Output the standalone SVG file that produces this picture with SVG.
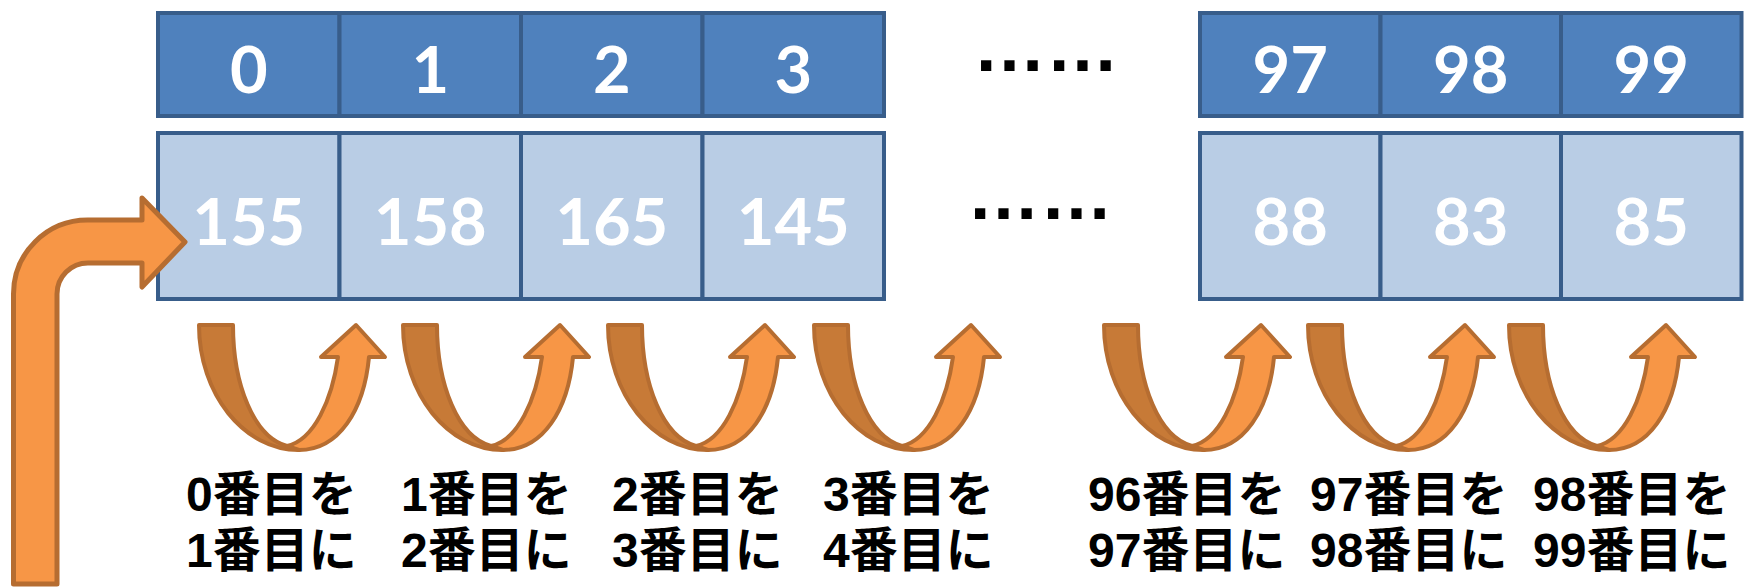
<svg xmlns="http://www.w3.org/2000/svg" width="1744" height="587" viewBox="0 0 1744 587">
<style>
.top{fill:#4F81BD;stroke:#385D8A;stroke-width:4}
.bot{fill:#B9CDE5;stroke:#385D8A;stroke-width:4}
.num{font-family:Lato,"Open Sans",sans-serif;font-weight:700;font-size:65px;fill:#FFFFFF;text-anchor:middle}
.dots{font-family:"Liberation Sans",sans-serif;font-weight:700;font-size:73px;fill:#000000}
.lbl{font-family:"Liberation Sans","Noto Sans CJK JP",sans-serif;font-weight:700;font-size:48px;fill:#000000}
.dark{fill:#C77A37;stroke:#B66D31;stroke-width:4;stroke-linejoin:round}
.light{fill:#F79646;stroke:#B66D31;stroke-width:4;stroke-linejoin:round}
.big{fill:#F79646;stroke:#B66D31;stroke-width:5;stroke-linejoin:round}
</style>
<defs>
<g id="uarrow">
<path class="dark" d="M0,0 L34,0 C34,60 55,112 88,121 L100,125 C45,125 0,69 0,0 Z"/>
<path class="light" d="M88,121 C115,115 133,75 139,32 L122,32 L157,0 L186,32 L170,32 C165,85 140,125 100,125 Z"/>
</g>
</defs>
<g id="index-row">
<g id="idx0"><rect class="top" x="158" y="13" width="181.5" height="103"/><text class="num" x="248.75" y="93">0</text></g>
<g id="idx1"><rect class="top" x="339.5" y="13" width="181.5" height="103"/><text class="num" x="430.25" y="93">1</text></g>
<g id="idx2"><rect class="top" x="521" y="13" width="181.5" height="103"/><text class="num" x="611.75" y="93">2</text></g>
<g id="idx3"><rect class="top" x="702.5" y="13" width="181.5" height="103"/><text class="num" x="793.25" y="93">3</text></g>
<g id="idx97"><rect class="top" x="1200" y="13" width="180.5" height="103"/><text class="num" x="1290.25" y="93">97</text></g>
<g id="idx98"><rect class="top" x="1380.5" y="13" width="180.5" height="103"/><text class="num" x="1470.75" y="93">98</text></g>
<g id="idx99"><rect class="top" x="1561" y="13" width="180.5" height="103"/><text class="num" x="1651.25" y="93">99</text></g>
</g>
<g id="value-row">
<g id="val0"><rect class="bot" x="158" y="133" width="181.5" height="166"/><text class="num" x="248.75" y="245">155</text></g>
<g id="val1"><rect class="bot" x="339.5" y="133" width="181.5" height="166"/><text class="num" x="430.25" y="245">158</text></g>
<g id="val2"><rect class="bot" x="521" y="133" width="181.5" height="166"/><text class="num" x="611.75" y="245">165</text></g>
<g id="val3"><rect class="bot" x="702.5" y="133" width="181.5" height="166"/><text class="num" x="793.25" y="245">145</text></g>
<g id="val97"><rect class="bot" x="1200" y="133" width="180.5" height="166"/><text class="num" x="1290.25" y="245">88</text></g>
<g id="val98"><rect class="bot" x="1380.5" y="133" width="180.5" height="166"/><text class="num" x="1470.75" y="245">83</text></g>
<g id="val99"><rect class="bot" x="1561" y="133" width="180.5" height="166"/><text class="num" x="1651.25" y="245">85</text></g>
</g>
<g id="ellipsis">
<text class="dots" x="973" y="71">……</text>
<text class="dots" x="967" y="219">……</text>
</g>
<g id="connectors">
<path class="big" d="M13.5,584 L13.5,294 A74,74 0 0 1 87.5,220 L142,220 L142,198 L185,242 L142,287 L142,263 L88,263 A31,31 0 0 0 57,294 L57,584 Z"/>
<use href="#uarrow" x="199" y="325"/>
<use href="#uarrow" x="403" y="325"/>
<use href="#uarrow" x="608" y="325"/>
<use href="#uarrow" x="814" y="325"/>
<use href="#uarrow" x="1104" y="325"/>
<use href="#uarrow" x="1308" y="325"/>
<use href="#uarrow" x="1509" y="325"/>
</g>
<g id="labels">
<text class="lbl" x="186" y="511">0番目を<tspan x="186" y="567">1番目に</tspan></text>
<text class="lbl" x="401" y="511">1番目を<tspan x="401" y="567">2番目に</tspan></text>
<text class="lbl" x="612" y="511">2番目を<tspan x="612" y="567">3番目に</tspan></text>
<text class="lbl" x="823" y="511">3番目を<tspan x="823" y="567">4番目に</tspan></text>
<text class="lbl" x="1088" y="511">96番目を<tspan x="1088" y="567">97番目に</tspan></text>
<text class="lbl" x="1310" y="511">97番目を<tspan x="1310" y="567">98番目に</tspan></text>
<text class="lbl" x="1533" y="511">98番目を<tspan x="1533" y="567">99番目に</tspan></text>
</g>
</svg>
